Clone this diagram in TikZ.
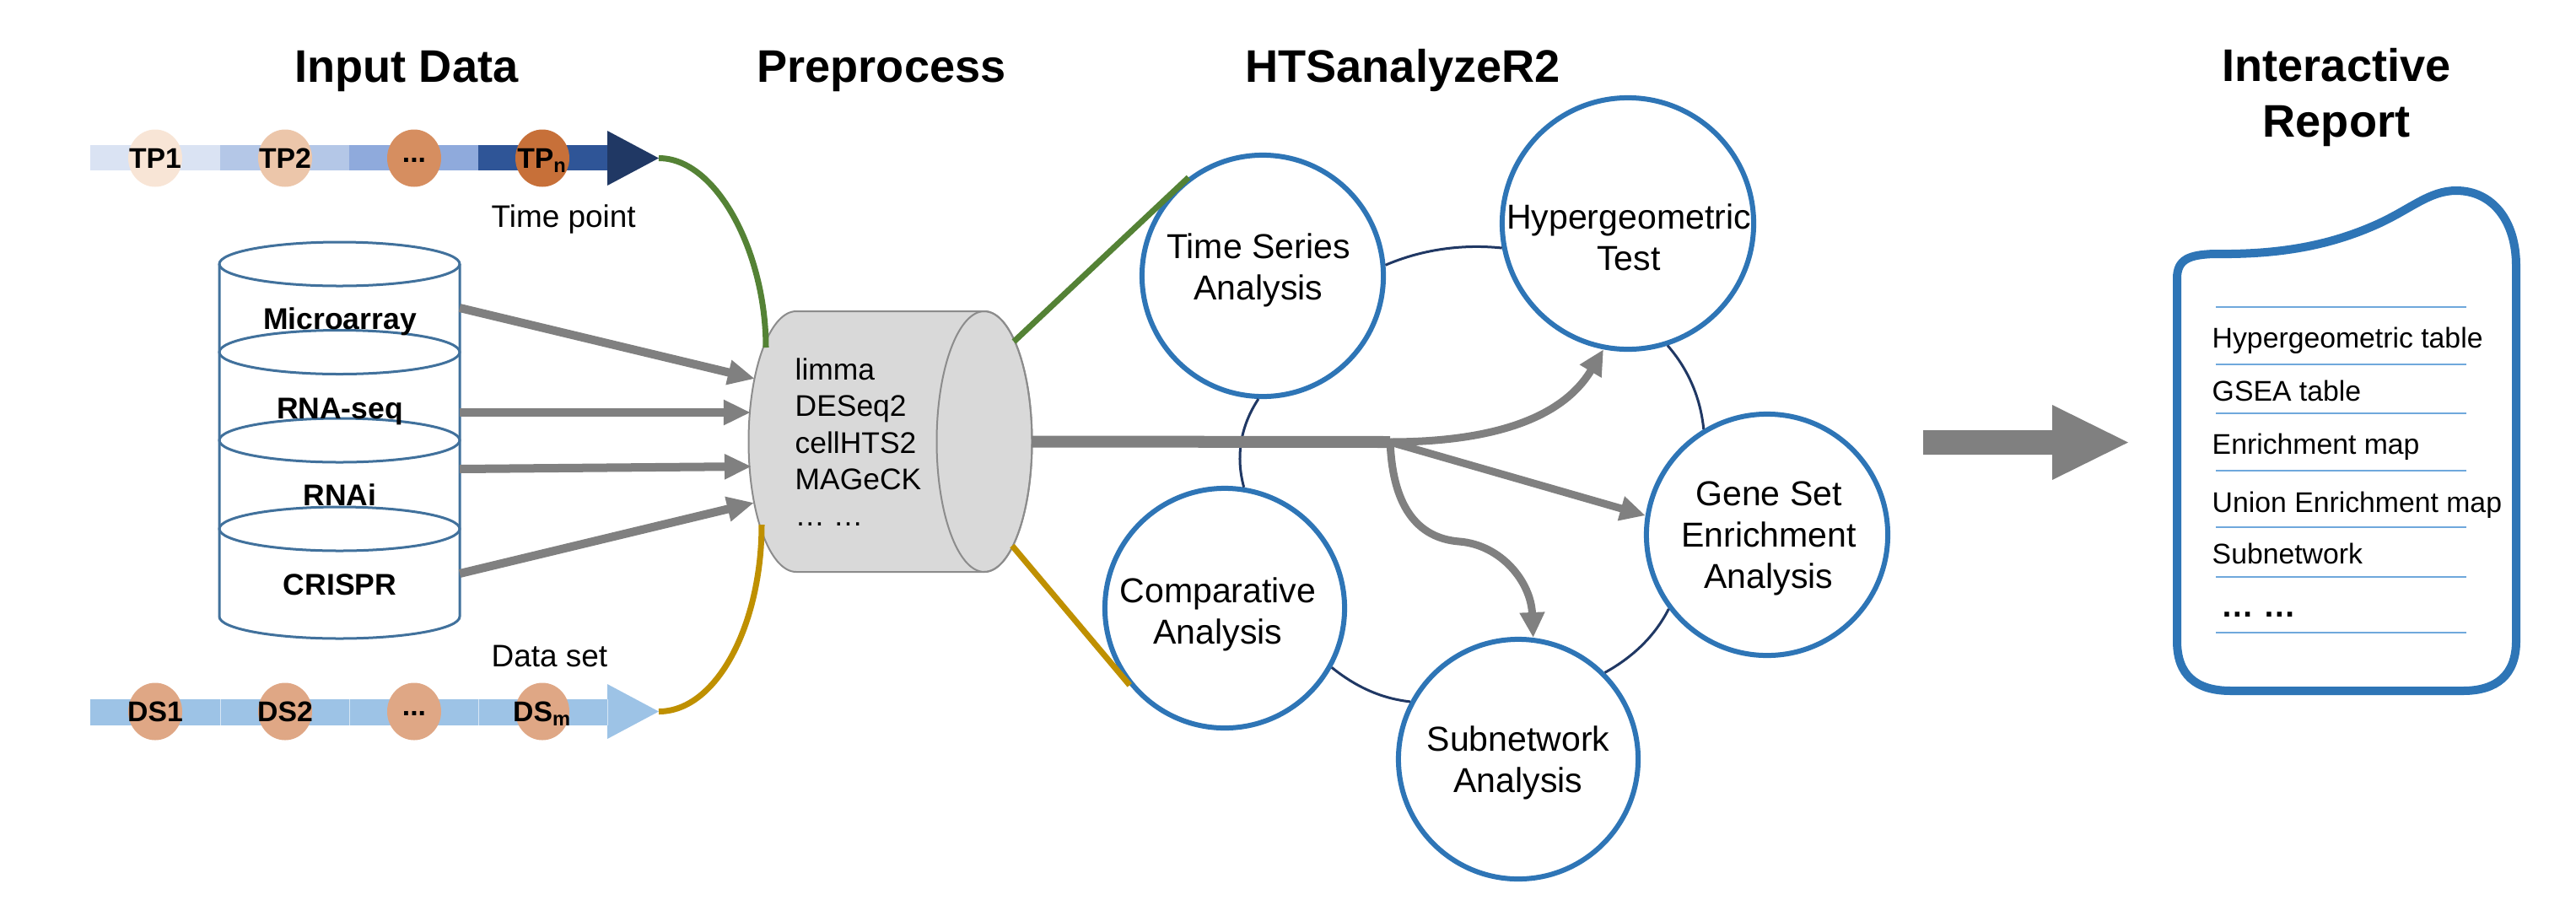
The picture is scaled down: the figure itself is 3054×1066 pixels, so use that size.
\documentclass[tikz,border=0pt]{standalone}
\usepackage{fontspec}
\setmainfont{Liberation Sans}
\usetikzlibrary{arrows.meta,shapes.geometric}
\definecolor{cblue}{HTML}{2E75B6}
\definecolor{cnavy}{HTML}{203864}
\definecolor{cylblue}{HTML}{41719C}
\definecolor{cgray}{HTML}{808080}
\definecolor{pfill}{HTML}{D9D9D9}
\definecolor{pstroke}{HTML}{8C8C8C}
\definecolor{cgreen}{HTML}{548235}
\definecolor{cgold}{HTML}{BF9000}
\definecolor{rline}{HTML}{6FA8DC}
\definecolor{tpa}{HTML}{DAE3F3}
\definecolor{tpb}{HTML}{B4C7E7}
\definecolor{tpc}{HTML}{8FAADC}
\definecolor{tpd}{HTML}{2F5597}
\definecolor{tphead}{HTML}{203864}
\definecolor{ca}{HTML}{F8E5D6}
\definecolor{cb}{HTML}{ECC6AA}
\definecolor{cc}{HTML}{D68E60}
\definecolor{cd}{HTML}{C77039}
\definecolor{dsbar}{HTML}{9DC3E6}
\definecolor{dscirc}{HTML}{DFA785}
\begin{document}
\begin{tikzpicture}[x=0.01cm,y=-0.01cm,
  title/.style={font=\fontsize{15.4}{18.8}\selectfont\bfseries, inner sep=0, anchor=base},
  ptext/.style={font=\fontsize{9.6}{11}\selectfont\bfseries, inner sep=0, text height=0.24cm, text depth=0cm},
  side/.style={font=\fontsize{10.5}{12.5}\selectfont, inner sep=0, anchor=base west},
  dblabel/.style={font=\fontsize{10.1}{12}\selectfont\bfseries, inner sep=0, anchor=base},
  pretext/.style={font=\fontsize{10.07}{12}\selectfont, inner sep=0, anchor=base west},
  feed/.style={draw=cgray, line width=0.1cm, -{Triangle[length=0.32cm,width=0.28cm]}},
  branch/.style={draw=cgray, line width=0.09cm, -{Triangle[length=0.3cm,width=0.28cm]}},
  mod/.style={circle, draw=cblue, line width=0.06cm, inner sep=0, minimum size=#1},
  modtext/.style={font=\fontsize{11.67}{13.94}\selectfont, align=center, inner sep=0},
  ring/.style={draw=cnavy, line width=0.03cm},
  reptext/.style={font=\fontsize{9.6}{11.5}\selectfont, inner sep=0, anchor=base west},
  repline/.style={draw=rline, line width=0.02cm},
  link/.style={line width=0.07cm}
]
\useasboundingbox (0,0) rectangle (3054,1066);

% ---------- titles ----------
\node[title] (t1) at (482,97) {Input Data};
\node[title] (t2) at (1045,97) {Preprocess};
\node[title] (t3) at (1663,97) {HTSanalyzeR2};
\node[title] (t4a) at (2770,96) {Interactive};
\node[title] (t4b) at (2770,162) {Report};

% ---------- time point bar ----------
\fill[tpa] (107,172) rectangle (261,202);
\fill[tpb] (261,172) rectangle (414,202);
\fill[tpc] (414,172) rectangle (567,202);
\fill[tpd] (567,172) rectangle (720,202);
\fill[tphead] (720,155) -- (781,187.5) -- (720,220) -- cycle;
\fill[ca] (184,187.5) ellipse[x radius=32, y radius=34];
\fill[cb] (338,187.5) ellipse[x radius=32, y radius=34];
\fill[cc] (491,187.5) ellipse[x radius=32, y radius=34];
\fill[cd] (643,187.5) ellipse[x radius=32, y radius=34];
\node[ptext] (tp1) at (184,187.5) {TP1};
\node[ptext] (tp2) at (338,187.5) {TP2};
\node[ptext] (tp3) at (491,187.5) {\raisebox{0.22em}{...}};
\node[ptext] (tp4) at (643,187.5) {TP\textsubscript{n}};
\node[side] (tplab) at (582,269) {Time point};

% ---------- data set bar ----------
\fill[dsbar] (107,829) rectangle (720,860);
\fill[dsbar] (720,811) -- (781,843.5) -- (720,876) -- cycle;
\foreach \sx in {261,414,567,720}
  \draw[white, line width=0.01cm, opacity=0.6] (\sx,829) -- (\sx,860);
\fill[dscirc] (184,843.5) ellipse[x radius=32, y radius=34];
\fill[dscirc] (338,843.5) ellipse[x radius=32, y radius=34];
\fill[dscirc] (491,843.5) ellipse[x radius=32, y radius=34];
\fill[dscirc] (643,843.5) ellipse[x radius=32, y radius=34];
\node[ptext] (ds1) at (184,843.5) {DS1};
\node[ptext] (ds2) at (338,843.5) {DS2};
\node[ptext] (ds3) at (491,843.5) {\raisebox{0.22em}{...}};
\node[ptext] (ds4) at (643,843.5) {DS\textsubscript{m}};
\node[side] (dslab) at (582,790) {Data set};

% ---------- stacked database cylinder ----------
\draw[cylblue, line width=0.03cm] (260,313) -- (260,731)
  arc[start angle=180, end angle=0, x radius=142.5, y radius=26] -- (545,313);
\foreach \cy in {313,417.5,522,627}
  \draw[cylblue, line width=0.03cm] (402.5,\cy) ellipse[x radius=142.5, y radius=26];
\node[dblabel] (db1) at (403,390) {Microarray};
\node[dblabel] (db2) at (403,496) {RNA-seq};
\node[dblabel] (db3) at (403,599) {RNAi};
\node[dblabel] (db4) at (403,705) {CRISPR};

% ---------- preprocess cylinder ----------
\filldraw[fill=pfill, draw=pstroke, line width=0.02cm] (944,369) -- (1167,369)
  arc[start angle=-90, end angle=90, x radius=56.5, y radius=154.5] -- (944,678)
  arc[start angle=90, end angle=270, x radius=56.5, y radius=154.5] -- cycle;
\draw[pstroke, line width=0.02cm] (1167,523.5) ellipse[x radius=56.5, y radius=154.5];
\node[pretext] (p1) at (942,450) {limma};
\node[pretext] (p2) at (942,493) {DESeq2};
\node[pretext] (p3) at (942,537) {cellHTS2};
\node[pretext] (p4) at (942,580) {MAGeCK};
\node[pretext] (p5) at (942,623) {… …};

% coordinates on shapes
\coordinate (tptip) at (781,187.5);
\coordinate (dstip) at (781,843.5);
\coordinate (preG) at (908,412);
\coordinate (preY) at (903,622);
\coordinate (preTR) at (1202,405);
\coordinate (preBR) at (1200,647);
\coordinate (preR) at (1223,523.5);
\coordinate (split) at (1648,524);
\coordinate (s1) at (545,365);
\coordinate (s2) at (545,489);
\coordinate (s3) at (545,556);
\coordinate (s4) at (545,680);
\coordinate (e1) at (895,449);
\coordinate (e2) at (890,489);
\coordinate (e3) at (891,553);
\coordinate (e4) at (894,596);

% feed arrows
\draw[feed] (s1) -- (e1);
\draw[feed] (s2) -- (e2);
\draw[feed] (s3) -- (e3);
\draw[feed] (s4) -- (e4);

% green and gold links
\draw[cgreen, link] (tptip) .. controls (850,187.5) and (908,300) .. (preG);
\draw[cgold, link] (dstip) .. controls (850,843.5) and (903,740) .. (preY);

% ---------- analysis circles ----------
\node[mod=2.86cm] (ts) at (1497,327) {};
\node[mod=2.98cm] (hg) at (1930,265) {};
\node[mod=2.86cm] (gs) at (2095,634) {};
\node[mod=2.84cm] (sn) at (1800,900) {};
\node[mod=2.84cm] (cmp) at (1452,721) {};
\node[modtext] (tst) at (1492,320) {Time Series\\Analysis};
\node[modtext] (hgt) at (1931,281) {Hypergeometric\\Test};
\node[modtext] (gst) at (2097,638) {Gene Set\\Enrichment\\Analysis};
\node[modtext] (snt) at (1800,904) {Subnetwork\\Analysis};
\node[modtext] (cmpt) at (1444,728) {Comparative\\Analysis};

\draw[cgreen, link] (preTR) -- (ts.127);
\draw[cgold, link] (preBR) -- (cmp.219);

% ring connectors
\draw[ring] (ts.5) .. controls (1685,296) and (1733,289) .. (hg.191);
\draw[ring] (hg.288) .. controls (2001,437) and (2016,471) .. (gs.121);
\draw[ring] (gs.217) .. controls (1962,754) and (1936,779) .. (sn.45);
\draw[ring] (sn.152) .. controls (1637,828) and (1607,814) .. (cmp.331);
\draw[ring] (cmp.81) .. controls (1465,542) and (1470,506) .. (ts.268);

% trunk and branches
\draw[cgray, line width=0.14cm] (preR) -- (split);
\draw[branch] (split) .. controls (1760,524) and (1850,500) .. (hg.259);
\draw[branch] (split) -- (gs.171);
\draw[branch] (1648,520) .. controls (1650,600) and (1680,638) .. (1730,642)
  .. controls (1780,646) and (1815,690) .. (sn.83);

% big arrow
\fill[cgray] (2280,510) -- (2433,510) -- (2433,480) -- (2523,524.5) -- (2433,569) -- (2433,539) -- (2280,539) -- cycle;

% ---------- report ----------
\draw[cblue, line width=0.1cm, line join=round] (2581,330)
  .. controls (2581,307) and (2596,302) .. (2625,301)
  .. controls (2700,302) and (2760,292) .. (2818,266)
  .. controls (2858,248) and (2880,226) .. (2912,226)
  .. controls (2955,226) and (2983,262) .. (2983,315)
  -- (2983,760)
  .. controls (2983,800) and (2960,819) .. (2920,819)
  -- (2645,819)
  .. controls (2603,819) and (2581,800) .. (2581,760) -- cycle;
\foreach \ly in {364,432,490,558,625,684,750}
  \draw[repline] (2627,\ly) -- (2924,\ly);
\node[reptext] (r1) at (2622,412) {Hypergeometric table};
\node[reptext] (r2) at (2622,475) {GSEA table};
\node[reptext] (r3) at (2622,538) {Enrichment map};
\node[reptext] (r4) at (2622,607) {Union Enrichment map};
\node[reptext] (r5) at (2622,668) {Subnetwork};
\node[reptext, font=\fontsize{11}{13}\selectfont\bfseries] (r6) at (2633,731) {… …};
\end{tikzpicture}
\end{document}
